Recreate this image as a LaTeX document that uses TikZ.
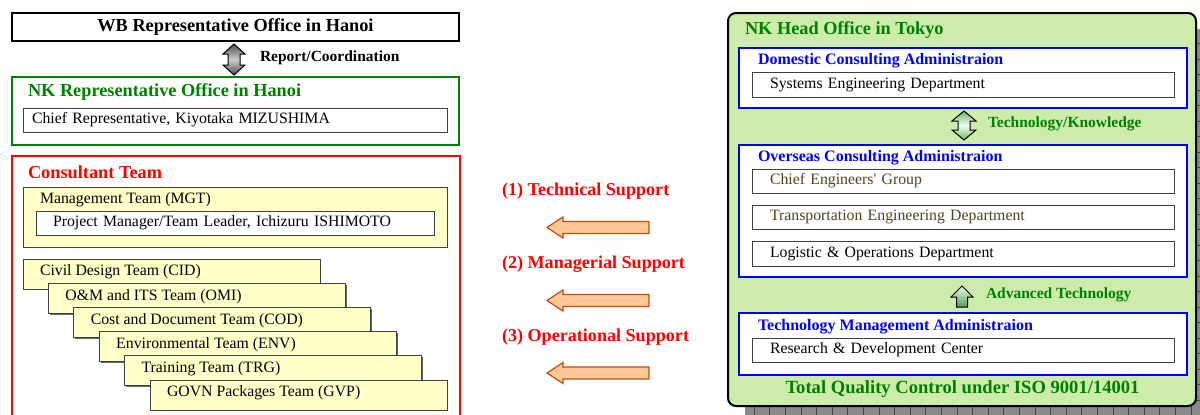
\documentclass[tikz,border=0pt]{standalone}
\usepackage{fontspec}
\setmainfont{Liberation Serif}
\usetikzlibrary{shadows}
\definecolor{tgreen}{RGB}{0,128,0}
\definecolor{hgreen}{RGB}{205,236,172}
\definecolor{ylw}{RGB}{255,255,200}
\definecolor{orgfill}{RGB}{255,200,150}
\definecolor{orgline}{RGB}{190,80,10}
\definecolor{olivetxt}{RGB}{75,70,30}
\definecolor{shgray}{RGB}{138,138,138}
\definecolor{shline}{RGB}{70,70,70}
\definecolor{myblue}{RGB}{0,0,255}
\definecolor{myred}{RGB}{255,0,0}
\definecolor{gA}{RGB}{110,180,110}
\definecolor{gB}{RGB}{235,255,235}
\definecolor{gC}{RGB}{80,160,80}
\newcommand\fTitle{\fontsize{18.3pt}{21pt}\selectfont\bfseries}
\newcommand\fSub{\fontsize{16pt}{19pt}\selectfont\bfseries}
\newcommand\fBody{\fontsize{15.8pt}{19pt}\selectfont}
\newcommand\fLab{\fontsize{15.5pt}{18pt}\selectfont\bfseries}
\newcommand\fSup{\fontsize{18.1pt}{21pt}\selectfont\bfseries}
\begin{document}
\begin{tikzpicture}[x=1pt,y=-1pt,
  every node/.style={inner sep=0pt, outer sep=0pt},
  shad/.style={drop shadow={shadow xshift=1.3pt, shadow yshift=-1.3pt, fill=black!60, opacity=1}},
  wbox/.style={draw=black!75, line width=0.9pt, fill=white, shad, font=\fBody, align=left},
  ybox/.style={draw=black!75, line width=0.9pt, fill=ylw, shad},
  bluebox/.style={draw=myblue, line width=2pt, fill=white},
  ttl/.style={anchor=west, font=\fTitle},
  sub/.style={anchor=west, font=\fSub, text=myblue},
  body/.style={anchor=west, font=\fBody},
  lab/.style={anchor=west, font=\fLab},
  sup/.style={anchor=west, font=\fSup, text=myred},
  oarrow/.style={fill=orgfill, draw=orgline, line width=1.2pt, line join=miter},
  darrow/.style={draw=black, line width=1pt, line join=miter}
]
\fill[white] (0,0) rectangle (1200,415);
\useasboundingbox (0,0) rectangle (1200,415);

% ---------------- left side ----------------
\node[draw=black, line width=1.2pt, fill=white, shad, minimum width=447pt, minimum height=28pt,
      font=\fTitle] (wb) at (235.5,27) {WB Representative Office in Hanoi};

\shade[darrow, top color=black!70, bottom color=black!70, middle color=black!20]
  (234,44) -- (245,54) -- (240,54) -- (240,65) -- (245,65) -- (234,75) -- (223,65)
  -- (228,65) -- (228,54) -- (223,54) -- cycle;
\node[lab] (rc) at (260,58) {Report/Coordination};

\node[draw=tgreen, line width=1.8pt, fill=white, minimum width=447pt, minimum height=68pt] (nk) at (235.5,111) {};
\node[ttl, text=tgreen] (nkT) at (28,92) {NK Representative Office in Hanoi};
\node[wbox, minimum height=24pt, text width=406pt, inner xsep=9pt] (nkchief) at (235,120)
  {Chief Representative, Kiyotaka MIZUSHIMA};

\node[draw=myred, line width=1.5pt, fill=white, anchor=north west, minimum width=448pt, minimum height=280pt] (ct) at (12,156) {};
\node[ttl, text=myred] (ctT) at (28,172) {Consultant Team};

\node[ybox, minimum width=424pt, minimum height=60pt] (mgt) at (235,217) {};
\node[body] (mgtT) at (40,200) {Management Team (MGT)};
\node[wbox, minimum height=24pt, text width=364pt, inner xsep=17pt] (mgtpm) at (235,223)
  {Project Manager/Team Leader, Ichizuru ISHIMOTO};

\foreach \i/\nm/\txt in {0/cid/Civil Design Team (CID),
                        1/omi/O\&M and ITS Team (OMI),
                        2/cod/Cost and Document Team (COD),
                        3/env/Environmental Team (ENV),
                        4/trg/Training Team (TRG),
                        5/gvp/GOVN Packages Team (GVP)}{
  \node[ybox, anchor=north west, minimum width=297pt, minimum height=30pt] (\nm) at (23+25.4*\i, 259+24.2*\i) {};
  \node[body] (\nm T) at (40+25.4*\i, 272+24.2*\i) {\txt};
}

% ---------------- middle ----------------
\node[sup] (sup1) at (502,191) {(1) Technical Support};
\node[sup] (sup2) at (502,264) {(2) Managerial Support};
\node[sup] (sup3) at (502,337) {(3) Operational Support};
\foreach \cy in {227.5,300.5,373}{
  \draw[oarrow] (547,\cy) -- ++(16,-10.5) -- ++(0,4.5) -- ++(86,0) -- ++(0,12)
    -- ++(-86,0) -- ++(0,4.5) -- cycle;
}

% ---------------- right side ----------------
\fill[shgray, rounded corners=8pt] (745,29) rectangle (1213,425);
\begin{scope}
  \clip[rounded corners=8pt] (745,29) rectangle (1213,425);
  \foreach \k in {0,...,30}{
    \draw[shline, line width=0.8pt] (1113-15.6*\k+15.6*6,20) -- (1113-15.6*\k+15.6*6,430);
    \draw[shline, line width=0.8pt] (740,28+15.5*\k) -- (1220,28+15.5*\k);
  }
\end{scope}
\node[draw=black, line width=2pt, fill=hgreen, rounded corners=8pt,
      minimum width=468pt, minimum height=393pt] (ho) at (962,209.5) {};
\node[ttl, text=tgreen] (hoT) at (745,30) {NK Head Office in Tokyo};

\node[bluebox, minimum width=448pt, minimum height=60pt] (dca) at (963,78) {};
\node[sub] (dcaT) at (758,61) {Domestic Consulting Administraion};
\node[wbox, minimum height=25pt, text width=386pt, inner xsep=18pt] (sed) at (963,84.5)
  {Systems Engineering Department};

\shade[darrow, top color=gA, bottom color=gA, middle color=gB]
  (964,111) -- (976,121) -- (970,121) -- (970,130) -- (976,130) -- (964,140) -- (952,130)
  -- (958,130) -- (958,121) -- (952,121) -- cycle;
\node[lab, text=tgreen] (ttk) at (988,124) {Technology/Knowledge};

\node[bluebox, minimum width=448pt, minimum height=132pt] (oca) at (963,211) {};
\node[sub] (ocaT) at (758,158) {Overseas Consulting Administraion};
\node[wbox, minimum height=24pt, text width=386pt, inner xsep=18pt, text=olivetxt] (ceg) at (963,181)
  {Chief Engineers\textquotesingle\ Group};
\node[wbox, minimum height=24pt, text width=386pt, inner xsep=18pt, text=olivetxt] (ted) at (963,217)
  {Transportation Engineering Department};
\node[wbox, minimum height=25pt, text width=386pt, inner xsep=18pt] (lod) at (963,253.5)
  {Logistic \& Operations Department};

\shade[darrow, top color=gB, bottom color=gC]
  (962,286) -- (973,297) -- (967.5,297) -- (967.5,307) -- (956.5,307) -- (956.5,297)
  -- (951,297) -- cycle;
\node[lab, text=tgreen] (adv) at (986,295) {Advanced Technology};

\node[bluebox, minimum width=448pt, minimum height=62pt] (tma) at (963,344) {};
\node[sub] (tmaT) at (758,327) {Technology Management Administraion};
\node[wbox, minimum height=24pt, text width=386pt, inner xsep=18pt] (rdc) at (963,350)
  {Research \& Development Center};

\node[font=\fontsize{18.6pt}{21pt}\selectfont\bfseries, text=tgreen] (tqc) at (962.5,389)
  {Total Quality Control under ISO 9001/14001};
\end{tikzpicture}
\end{document}
